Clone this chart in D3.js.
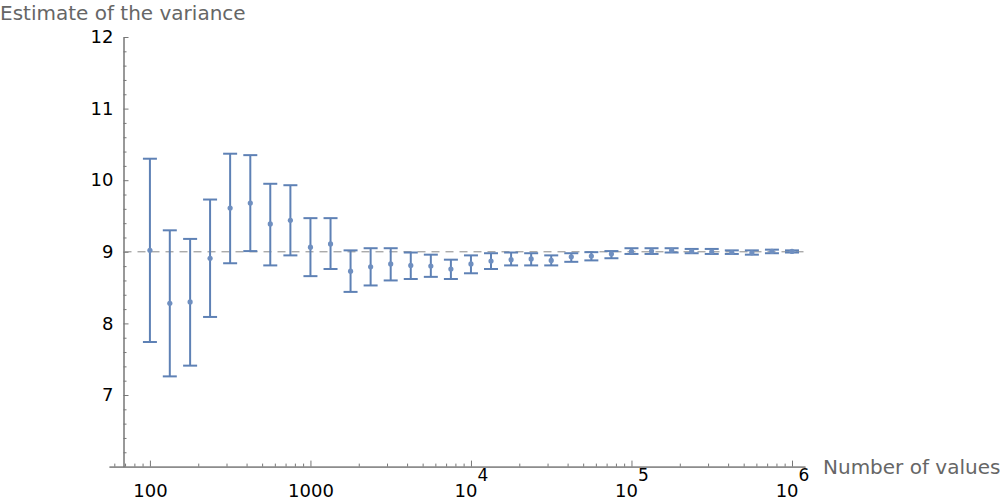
<!DOCTYPE html>
<html>
<head>
<meta charset="utf-8">
<script src="https://cdn.jsdelivr.net/npm/d3@7"></script>
<style>
  body { margin: 0; background: #fff; }
  svg text { font-family: "DejaVu Sans", sans-serif; }
  .axis path, .axis line { stroke: #777; }
  .axis text { fill: #000; font-size: 18px; }
  .axis-title { fill: #666; font-size: 20px; }
</style>
</head>
<body>
<div id="chart"></div>
<script>
// sample size per estimate
var counts = [100, 133, 178, 237, 316, 422, 562, 750, 1000, 1334, 1778, 2371, 3162, 4217, 5623, 7499,
  10000, 13335, 17783, 23714, 31623, 42170, 56234, 74989, 100000, 133352, 177828, 237137, 316228,
  421697, 562341, 749894, 1000000];
// estimated variance
var estimates = [9.02, 8.28, 8.30, 8.91, 9.61, 9.68, 9.39, 9.44, 9.065, 9.11, 8.73, 8.79, 8.83, 8.81, 8.80, 8.76,
  8.83, 8.87, 8.89, 8.90, 8.88, 8.93, 8.94, 8.97, 9.005, 9.01, 9.02, 9.005, 9.0,
  8.99, 8.985, 9.005, 9.005];
var lower = [7.74, 7.26, 7.41, 8.09, 8.84, 9.01, 8.81, 8.95, 8.66, 8.76, 8.44, 8.53, 8.60, 8.62, 8.65, 8.62,
  8.70, 8.76, 8.81, 8.81, 8.81, 8.86, 8.88, 8.91, 8.97, 8.97, 8.99, 8.98, 8.97,
  8.97, 8.96, 8.98, 8.99];
var upper = [10.30, 9.30, 9.18, 9.73, 10.37, 10.35, 9.95, 9.93, 9.47, 9.47, 9.02, 9.05, 9.05, 8.99, 8.96, 8.89,
  8.95, 8.98, 8.99, 8.98, 8.95, 8.98, 8.995, 9.01, 9.05, 9.05, 9.05, 9.04, 9.04,
  9.02, 9.02, 9.03, 9.02];
var trueVariance = 9;

var xMajor = [100, 1000, 10000, 100000, 1000000];
var xMinor = [60, 70, 80, 90, 200, 300, 400, 500, 600, 700, 800, 900,
  2000, 3000, 4000, 5000, 6000, 7000, 8000, 9000,
  20000, 30000, 40000, 50000, 60000, 70000, 80000, 90000,
  200000, 300000, 400000, 500000, 600000, 700000, 800000, 900000];
var yMajor = [7, 8, 9, 10, 11, 12];
var yMinor = [6.2, 6.4, 6.6, 6.8, 7.2, 7.4, 7.6, 7.8, 8.2, 8.4, 8.6, 8.8, 9.2, 9.4, 9.6, 9.8,
  10.2, 10.4, 10.6, 10.8, 11.2, 11.4, 11.6, 11.8];

var width = 1000, height = 504;
var color = "#5e81b5";

var svg = d3.select("#chart").append("svg")
  .attr("width", width)
  .attr("height", height);

var x = d3.scaleLog().domain([55.6, 1.205e6]).range([109, 805]);
var y = d3.scaleLinear().domain([6, 12]).range([466.6, 37]);
var x0 = 123.5;

// x axis
svg.append("g")
  .attr("class", "axis axis-x-minor")
  .attr("transform", "translate(0," + y(6) + ")")
  .call(d3.axisBottom(x).tickValues(xMinor).tickSizeInner(-3).tickSizeOuter(0).tickFormat(""));

var xAxis = svg.append("g")
  .attr("class", "axis axis-x")
  .attr("transform", "translate(0," + y(6) + ")")
  .call(d3.axisBottom(x).tickValues(xMajor).tickSizeInner(-6).tickSizeOuter(0).tickPadding(18));

xAxis.selectAll(".tick text").each(function(d) {
  var t = d3.select(this);
  var p = Math.round(Math.log10(d));
  if (p <= 3) { t.text(d); return; }
  t.text(null);
  t.append("tspan").text("10");
  t.append("tspan").attr("dy", -16).style("font-size", "17px").text(p);
});

// y axis
svg.append("g")
  .attr("class", "axis axis-y-minor")
  .attr("transform", "translate(" + x0 + ",0)")
  .call(d3.axisLeft(y).tickValues(yMinor).tickSizeInner(-3).tickSizeOuter(0).tickFormat(""));

svg.append("g")
  .attr("class", "axis axis-y")
  .attr("transform", "translate(" + x0 + ",0)")
  .call(d3.axisLeft(y).tickValues(yMajor).tickSizeInner(-5).tickSizeOuter(0).tickPadding(10)
    .tickFormat(d3.format("d")));

// axis titles
svg.append("text")
  .attr("class", "axis-title")
  .attr("x", 0)
  .attr("y", 20)
  .text("Estimate of the variance");

svg.append("text")
  .attr("class", "axis-title")
  .attr("x", 823)
  .attr("y", 474)
  .text("Number of values");

// reference line at the true variance
svg.append("line")
  .attr("x1", x0)
  .attr("x2", 805)
  .attr("y1", y(trueVariance))
  .attr("y2", y(trueVariance))
  .attr("stroke", "#888")
  .attr("stroke-width", 1)
  .attr("stroke-dasharray", "8,6");

// error bars
var rows = counts.map(function(n, i) {
  return { n: n, v: estimates[i], lo: lower[i], hi: upper[i] };
});

var bars = svg.selectAll(".bar")
  .data(rows)
  .enter()
  .append("g")
  .attr("class", "bar")
  .attr("stroke", color)
  .attr("stroke-width", 2);

bars.append("line")
  .attr("x1", function(d) { return x(d.n); })
  .attr("x2", function(d) { return x(d.n); })
  .attr("y1", function(d) { return y(d.lo); })
  .attr("y2", function(d) { return y(d.hi); });

bars.append("line")
  .attr("x1", function(d) { return x(d.n) - 7; })
  .attr("x2", function(d) { return x(d.n) + 7; })
  .attr("y1", function(d) { return y(d.hi); })
  .attr("y2", function(d) { return y(d.hi); });

bars.append("line")
  .attr("x1", function(d) { return x(d.n) - 7; })
  .attr("x2", function(d) { return x(d.n) + 7; })
  .attr("y1", function(d) { return y(d.lo); })
  .attr("y2", function(d) { return y(d.lo); });

svg.selectAll(".pt")
  .data(rows)
  .enter()
  .append("circle")
  .attr("class", "pt")
  .attr("cx", function(d) { return x(d.n); })
  .attr("cy", function(d) { return y(d.v); })
  .attr("r", 2.6)
  .attr("fill", "#6f8fc0");
</script>
</body>
</html>
